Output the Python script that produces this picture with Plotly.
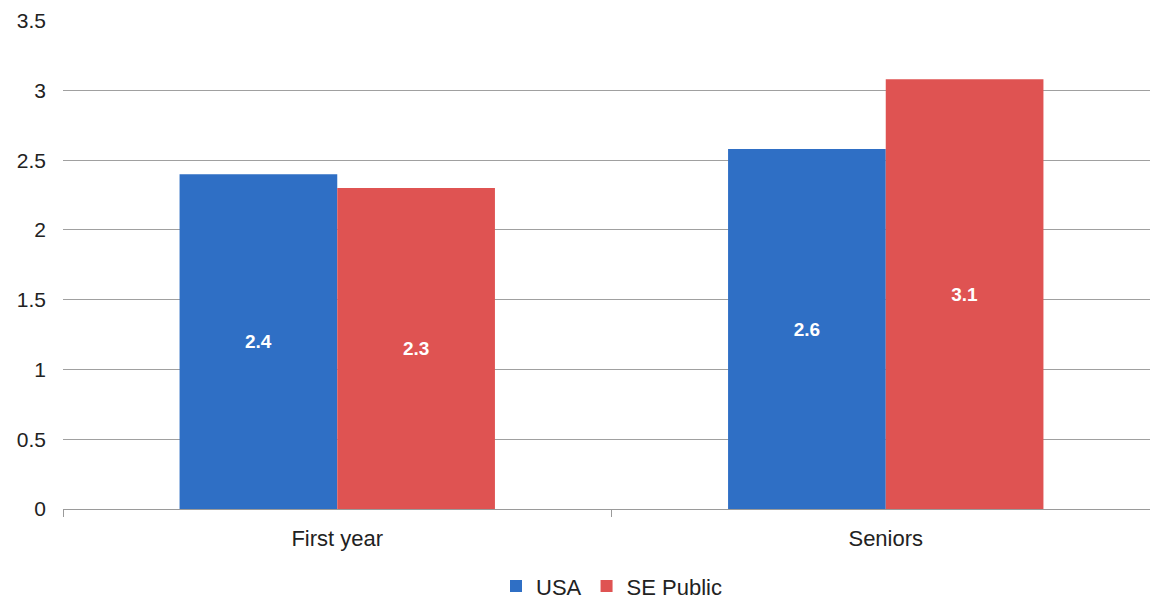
import plotly.graph_objects as go

categories = ["First year", "Seniors"]
usa = [2.4, 2.58]
se_public = [2.3, 3.08]
y_ticks = [0, 0.5, 1, 1.5, 2, 2.5, 3, 3.5]
y_tick_labels = ["0", "0.5", "1", "1.5", "2", "2.5", "3", "3.5"]

BLUE = "#2F6FC5"
RED = "#DF5352"
FONT = "Liberation Sans, Arial, sans-serif"

fig = go.Figure()
for name, vals, color in [("USA", usa, BLUE), ("SE Public", se_public, RED)]:
    fig.add_trace(go.Bar(
        x=categories, y=vals, name=name, marker=dict(color=color, line=dict(width=0)),
        texttemplate="%{y:.1f}", textposition="inside", insidetextanchor="middle",
        textfont=dict(color="white", size=19, family=FONT, weight="bold"),
    ))

# page body has an 8px margin, so the figure is sized to end at the window edge
fig.update_layout(
    barmode="group", bargap=0.425, bargroupgap=0,
    width=1152, height=591,
    margin=dict(l=55, r=0, t=12, b=90, autoexpand=False),
    plot_bgcolor="white", paper_bgcolor="white",
    font=dict(family=FONT, size=21, color="#222222"),
    legend=dict(orientation="h", x=0.5, xanchor="center", y=-0.115, yanchor="top",
                font=dict(size=22), itemwidth=30, traceorder="normal"),
    xaxis=dict(showline=True, linecolor="#9a9a9a", linewidth=1, ticks="outside",
               tickson="boundaries", ticklen=7, tickcolor="#9a9a9a", automargin=False,
               ticklabelstandoff=10, tickfont=dict(size=22), showgrid=False),
    yaxis=dict(range=[0, 3.505], tickvals=y_ticks, ticktext=y_tick_labels, automargin=False,
               showgrid=True, gridcolor="#a0a0a0", gridwidth=1, zeroline=False,
               showline=False, ticks="", ticklabelstandoff=16, tickfont=dict(size=21)),
)

fig.write_html("out.html")
